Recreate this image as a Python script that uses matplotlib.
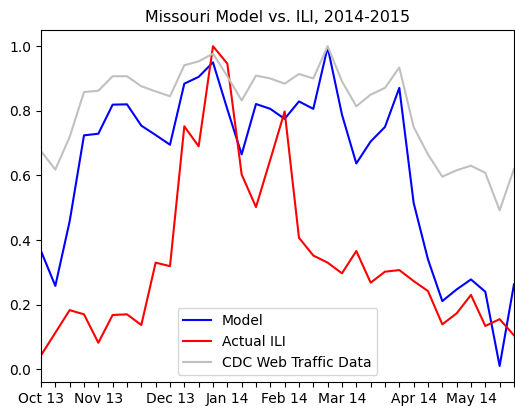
import matplotlib
matplotlib.use("Agg")
import matplotlib.pyplot as plt
import numpy as np

# weekly values, first week of Oct 2013 through late May 2014
model = [0.366, 0.258, 0.458, 0.724, 0.729, 0.819, 0.820, 0.754, 0.725, 0.695,
         0.884, 0.905, 0.950, 0.805, 0.665, 0.821, 0.806, 0.775, 0.829, 0.806,
         0.997, 0.788, 0.637, 0.705, 0.750, 0.871, 0.515, 0.340, 0.211, 0.247,
         0.278, 0.240, 0.010, 0.263]
actual_ili = [0.043, 0.113, 0.183, 0.170, 0.082, 0.168, 0.170, 0.137, 0.330, 0.319,
              0.752, 0.690, 1.000, 0.946, 0.603, 0.502, 0.649, 0.798, 0.407, 0.352,
              0.330, 0.297, 0.366, 0.268, 0.302, 0.307, 0.273, 0.242, 0.139, 0.173,
              0.230, 0.134, 0.155, 0.105]
cdc_web = [0.675, 0.618, 0.719, 0.858, 0.862, 0.907, 0.907, 0.876, 0.860, 0.845,
           0.941, 0.953, 0.977, 0.907, 0.832, 0.909, 0.900, 0.884, 0.914, 0.900,
           1.000, 0.891, 0.814, 0.850, 0.871, 0.934, 0.750, 0.665, 0.596, 0.616,
           0.630, 0.608, 0.492, 0.620]

month_idx = [0, 4, 9, 13, 17, 21, 26, 30]
month_labels = ["Oct 13", "Nov 13", "Dec 13", "Jan 14", "Feb 14", "Mar 14", "Apr 14", "May 14"]

weeks = np.arange(len(model))

fig, ax = plt.subplots(figsize=(5.15, 4.08), dpi=100)
fig.subplots_adjust(left=0.0796, right=0.998, bottom=0.0637, top=0.926)

ax.plot(weeks, model, color="b", label="Model")
ax.plot(weeks, actual_ili, color="r", label="Actual ILI")
ax.plot(weeks, cdc_web, color="silver", label="CDC Web Traffic Data")

labels = [""] * len(weeks)
for i, lab in zip(month_idx, month_labels):
    labels[i] = lab
ax.set_xticks(weeks)
ax.set_xticklabels(labels)
ax.set_xlim(0, len(weeks) - 1)

ax.set_title("Missouri Model vs. ILI, 2014-2015", fontsize=11.4)
ax.legend(loc="lower center")

plt.savefig("out.png")
